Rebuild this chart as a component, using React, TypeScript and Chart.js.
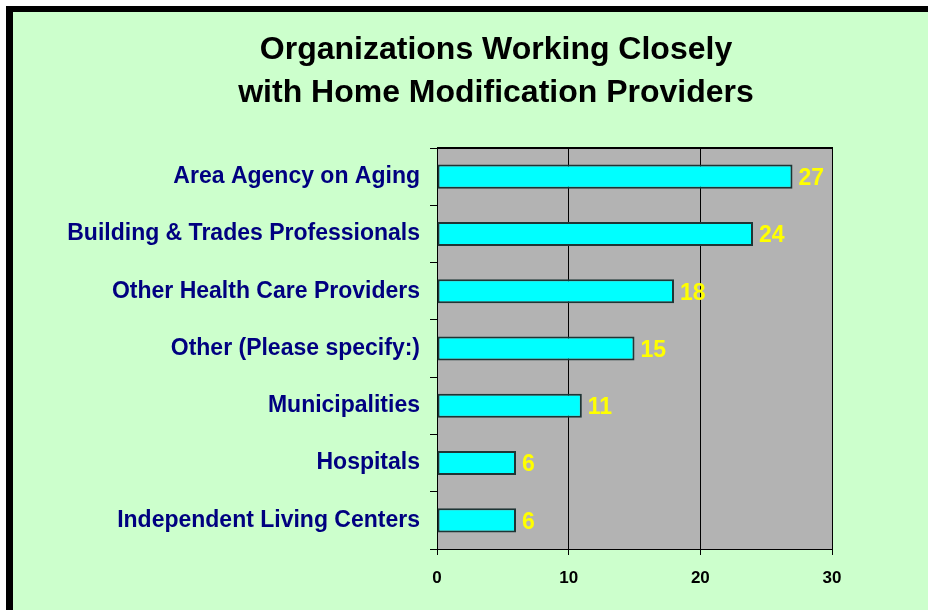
import React, { useEffect, useRef } from "react";
import { Chart, registerables } from "chart.js";

Chart.register(...registerables);

const TITLE_LINES = ["Organizations Working Closely", "with Home Modification Providers"];
const CATEGORIES = [
  "Area Agency on Aging",
  "Building & Trades Professionals",
  "Other Health Care Providers",
  "Other (Please specify:)",
  "Municipalities",
  "Hospitals",
  "Independent Living Centers",
];
const VALUES = [27, 24, 18, 15, 11, 6, 6];
const X_MIN = 0;
const X_MAX = 30;
const X_STEP = 10;

const FONT = "'Liberation Sans', Arial, Helvetica, sans-serif";
const CANVAS_W = 915;
const CANVAS_H = 598;

export default function App() {
  const ref = useRef<HTMLCanvasElement | null>(null);

  useEffect(() => {
    if (!ref.current) return;
    const plotBg = {
      id: "plotBg",
      beforeDraw(chart: any) {
        const { ctx, chartArea } = chart;
        ctx.save();
        ctx.fillStyle = "#B3B3B3";
        ctx.fillRect(chartArea.left, chartArea.top, chartArea.right - chartArea.left, chartArea.bottom - chartArea.top);
        ctx.restore();
      },
      afterDraw(chart: any) {
        const { ctx, chartArea } = chart;
        ctx.save();
        ctx.strokeStyle = "#000";
        ctx.lineWidth = 2;
        ctx.beginPath();
        ctx.moveTo(chartArea.left, chartArea.top);
        ctx.lineTo(chartArea.right + 1, chartArea.top);
        ctx.stroke();
        // title
        ctx.fillStyle = "#000";
        ctx.font = `bold 32px ${FONT}`;
        ctx.textAlign = "center";
        ctx.textBaseline = "middle";
        ctx.fillText(TITLE_LINES[0], 483, 38.5);
        ctx.fillText(TITLE_LINES[1], 483, 81);
        ctx.restore();
      },
    };
    const valueLabels = {
      id: "valueLabels",
      afterDatasetsDraw(chart: any) {
        const { ctx } = chart;
        const meta = chart.getDatasetMeta(0);
        ctx.save();
        ctx.fillStyle = "#FFFF00";
        ctx.font = `bold 23px ${FONT}`;
        ctx.textAlign = "left";
        ctx.textBaseline = "middle";
        meta.data.forEach((bar: any, i: number) => {
          ctx.fillText(String(VALUES[i]), bar.x + 6, bar.y + 2);
        });
        ctx.restore();
      },
    };

    const chart = new Chart(ref.current, {
      type: "bar",
      data: {
        labels: CATEGORIES,
        datasets: [
          {
            data: VALUES,
            backgroundColor: "#00FFFF",
            borderColor: "#1F3535",
            borderWidth: 2,
            borderSkipped: false,
            barPercentage: 0.42,
            categoryPercentage: 1,
          },
        ],
      },
      options: {
        indexAxis: "y",
        responsive: false,
        animation: false,
        devicePixelRatio: 1,
        layout: { padding: { left: 0, right: 96, top: 136, bottom: 0 } },
        plugins: {
          legend: { display: false },
          title: { display: false },
          tooltip: { enabled: false },
        },
        scales: {
          x: {
            min: X_MIN,
            max: X_MAX,
            ticks: {
              stepSize: X_STEP,
              color: "#000",
              font: { family: FONT, size: 17, weight: "bold" },
              padding: 13,
            },
            grid: {
              color: "#000",
              lineWidth: 1,
              tickLength: 6,
              drawOnChartArea: true,
            },
            border: { color: "#000", width: 1 },
            afterFit(scale: any) {
              scale.height = 61;
            },
          },
          y: {
            ticks: {
              color: "#000080",
              font: { family: FONT, size: 23, weight: "bold" },
              padding: 10,
            },
            grid: {
              offset: true,
              drawOnChartArea: false,
              color: "#000",
              tickLength: 7,
            },
            border: { color: "#000", width: 1 },
            afterFit(scale: any) {
              scale.width = 424;
            },
          },
        },
      },
      plugins: [plotBg, valueLabels],
    } as any);
    return () => chart.destroy();
  }, []);

  return (
    <div style={{ position: "fixed", left: 0, top: 0, width: 928, height: 610, background: "#fff", overflow: "hidden" }}>
      <div
        style={{
          position: "absolute",
          left: 6,
          top: 6,
          width: 922,
          height: 604,
          boxSizing: "border-box",
          borderTop: "6px solid #000",
          borderLeft: "7px solid #000",
          background: "#CCFFCC",
        }}
      >
        <canvas ref={ref} width={CANVAS_W} height={CANVAS_H} style={{ display: "block", width: CANVAS_W, height: CANVAS_H }} />
      </div>
    </div>
  );
}
